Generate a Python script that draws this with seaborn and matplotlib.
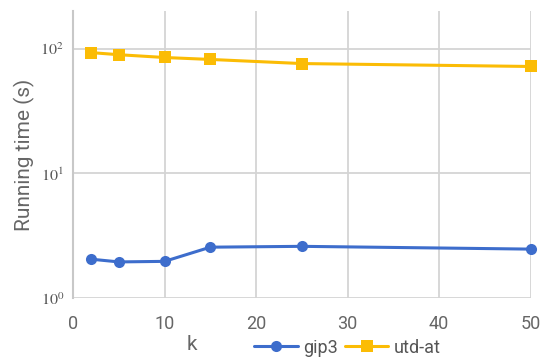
import matplotlib
matplotlib.use("Agg")
import matplotlib.pyplot as plt
import matplotlib.ticker as mticker
import seaborn as sns
import pandas as pd
import numpy as np

# data
k_values = [2, 5, 10, 15, 25, 50]
gip3 = [2.05, 1.95, 1.97, 2.56, 2.6, 2.47]
utd_at = [93, 89.5, 85, 82, 76, 72]
series_names = ["gip3", "utd-at"]
y_ticks = [1, 10, 100]
y_tick_labels = [r"$10^0$", r"$10^1$", r"$10^2$"]
x_ticks = [0, 10, 20, 30, 40, 50]

df = pd.DataFrame({
    "k": k_values * 2,
    "time": gip3 + utd_at,
    "series": [series_names[0]] * len(k_values) + [series_names[1]] * len(k_values),
})

sns.set_style("white")
plt.rcParams["font.family"] = ["Roboto", "DejaVu Sans"]
plt.rcParams["mathtext.fontset"] = "stix"

fig = plt.figure(figsize=(5.41, 3.6), dpi=100)
ax = fig.add_axes([0.135, 0.172, 0.846, 0.797])

palette = {"gip3": "#3d6dcc", "utd-at": "#fbbc05"}
markers = {"gip3": "o", "utd-at": "s"}
sns.lineplot(data=df, x="k", y="time", hue="series", style="series",
             palette=palette, markers=markers, dashes=False,
             markersize=8, linewidth=2.2, markeredgewidth=0,
             ax=ax, clip_on=False, zorder=3)

ax.set_yscale("log")
ax.set_ylim(1, 200)
ax.set_xlim(0, 50)
ax.set_xticks(x_ticks)
ax.set_yticks(y_ticks)
ax.set_yticklabels(y_tick_labels)
ax.yaxis.set_minor_locator(mticker.LogLocator(base=10, subs=np.arange(2, 10)))
ax.yaxis.set_minor_formatter(mticker.NullFormatter())

grid_col = "#d4d4d4"
ax.grid(True, which="major", color=grid_col, linewidth=1.3)
ax.set_axisbelow(True)
for s in ["top", "right", "bottom"]:
    ax.spines[s].set_visible(False)
ax.spines["left"].set_color("#c8c8c8")
ax.spines["left"].set_linewidth(1.5)

ax.tick_params(axis="x", length=0, labelsize=13, labelcolor="#666666", pad=12)
ax.tick_params(axis="y", which="major", direction="inout", length=9, width=1.2,
               color="#c8c8c8", labelsize=11.5, labelcolor="#555555", pad=2)
ax.tick_params(axis="y", which="minor", direction="inout", length=6, width=1,
               color="#c8c8c8")

ax.set_xlabel("k", fontsize=15, color="#666666", labelpad=2)
ax.xaxis.set_label_coords(0.26, -0.13)
ax.set_ylabel("Running time (s)", fontsize=15, color="#666666", labelpad=4)

handles, labels = ax.get_legend_handles_labels()
ax.legend(handles, labels, loc="upper center", bbox_to_anchor=(0.6, -0.085),
          ncol=2, frameon=False, fontsize=13, handlelength=2.4,
          handletextpad=0.3, columnspacing=0.4, labelcolor="#555555")

fig.savefig("out.png", dpi=100)
